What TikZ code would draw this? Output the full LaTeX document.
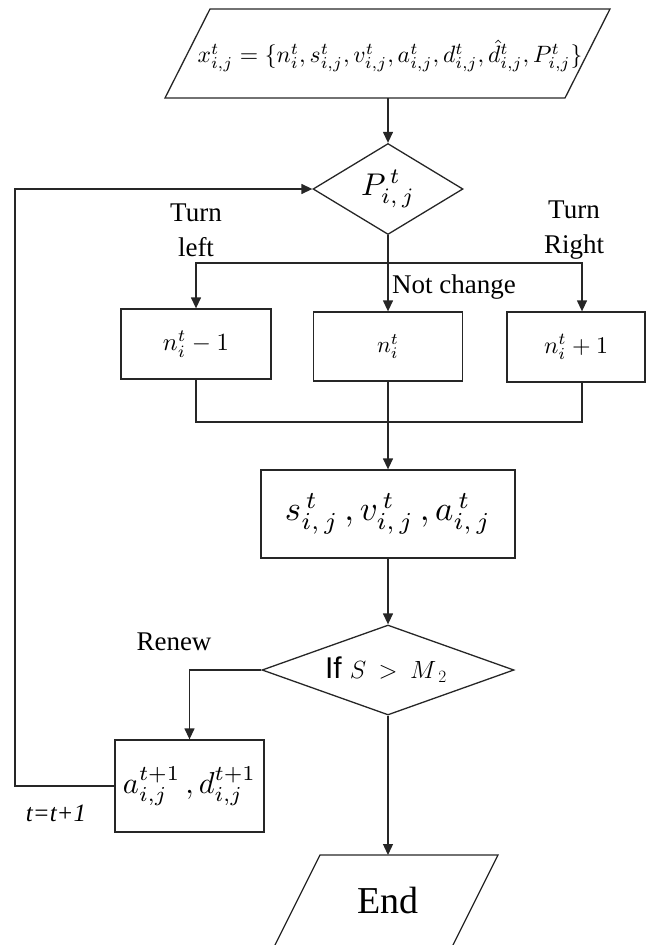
\documentclass[tikz,border=0pt]{standalone}
\usepackage{fontspec}
\setmainfont{Liberation Serif}
\newfontfamily\sansIf{Liberation Sans}
\usetikzlibrary{arrows.meta,shapes.geometric,calc}
\tikzset{
  ln/.style={line width=1.3pt, draw=black!85},
  arr/.style={ln, -{Triangle[length=11pt,width=10pt]}},
  box/.style={ln, draw, rectangle, inner sep=0pt},
  dia/.style={ln, draw, diamond, inner sep=0pt},
  lbl/.style={font=\fontsize{27}{35}\selectfont, align=center, inner sep=0pt},
}
\begin{document}
\begin{tikzpicture}[x=1pt,y=-1pt]
\useasboundingbox (0,0) rectangle (647,945);
\clip (0,0) rectangle (647,945);
% input parallelogram
\draw[ln] (210,9) -- (610,9) -- (565,98) -- (165,98) -- cycle;
\node[inner sep=0pt] (inp) at (390,56) {\resizebox{385pt}{!}{$x^t_{i,j}=\{n^t_i, s^t_{i,j}, v^t_{i,j}, a^t_{i,j}, d^t_{i,j}, \hat{d}^t_{i,j}, P^t_{i,j}\}$}};
\coordinate (inb) at (388,98);
% decision P
\node[dia, minimum width=150pt, minimum height=91pt, aspect=1.65] (d1) at (388,189) {\resizebox{54pt}{!}{$P^{\,t}_{i,\,j}$}};
\draw[arr] (inb) -- (d1.north);
% three boxes
\node[box, minimum width=150pt, minimum height=70pt] (b1) at (196,344) {\resizebox{66pt}{!}{$n_i^t-1$}};
\node[box, minimum width=149pt, minimum height=69pt] (b2) at (388,346.5) {\resizebox{22pt}{!}{$n_i^t$}};
\node[box, minimum width=138pt, minimum height=70pt] (b3) at (576,347) {\resizebox{64pt}{!}{$n_i^t+1$}};
\coordinate (split) at (388,263);
\draw[ln] (d1.south) -- (split);
\draw[arr] (split) -| (b1.north);
\draw[arr] (split) -- (b2.north);
\draw[arr] (split) -| ([xshift=6pt]b3.north);
\node[lbl] (tl) at (196,230) {Turn\\left};
\node[lbl] (tr) at (574,230) {Turn\\Right};
\node[lbl, anchor=west] (nc) at (392,287) {Not change};
% merge
\coordinate (merge) at (388,422);
\node[box, minimum width=254pt, minimum height=88pt] (sva) at (388,514) {\resizebox{206pt}{!}{$s^{\,t}_{i,\,j}\,,v^{\,t}_{i,\,j}\,,a^{\,t}_{i,\,j}$}};
\draw[ln] (b1.south) |- (merge);
\draw[ln] ([xshift=6pt]b3.south) |- (merge);
\draw[arr] (b2.south) -- (sva.north);
% decision If
\node[dia, minimum width=252pt, minimum height=90pt, aspect=2.8] (d2) at (388,670) {\hspace{-4pt}{\fontsize{30}{32}\sansIf If}\hspace{8pt}{\fontsize{25}{27}\selectfont$S\ \ {>}\ \ M_{\;2}$}\hspace{4pt}};
\draw[arr] (sva.south) -- (d2.north);
% renew box
\node[box, minimum width=149pt, minimum height=92pt] (ad) at (189.5,786) {\resizebox{133pt}{!}{$a^{t+1}_{i,j}\,,d^{t+1}_{i,j}$}};
\draw[arr] (d2.west) -| (ad.north);
\node[lbl] (rn) at (174,642) {Renew};
% feedback
\coordinate (fb) at (15,786);
\draw[arr] (ad.west) -- (fb) |- (d1.west);
\node[inner sep=0pt, font=\fontsize{25}{27}\selectfont\itshape] (tt) at (56,813) {t=t+1};
% end
\draw[ln] (320,855) -- (498,855) -- (443,965) -- (265,965) -- cycle;
\node[inner sep=0pt, font=\fontsize{38}{40}\selectfont] (endn) at (388,900) {End};
\coordinate (endt) at (388,855);
\draw[arr] (d2.south) -- (endt);
\end{tikzpicture}
\end{document}
